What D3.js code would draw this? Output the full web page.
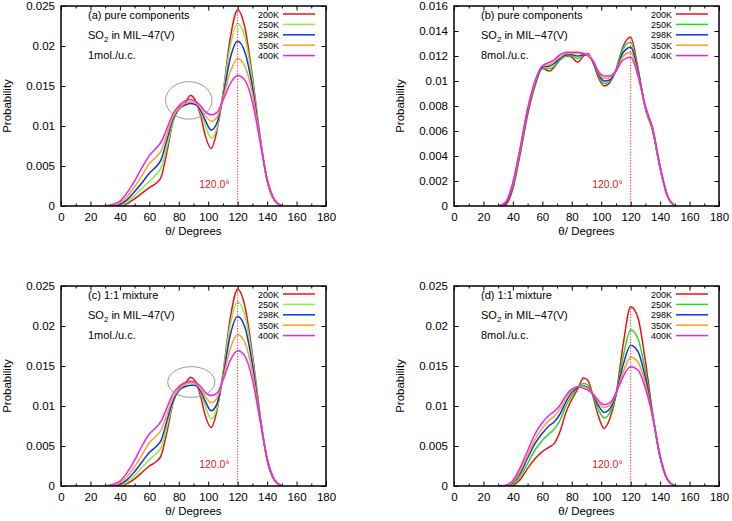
<!DOCTYPE html>
<html><head><meta charset="utf-8">
<script src="https://cdn.jsdelivr.net/npm/d3@7"></script>
<style>
body{margin:0;background:#fff}
text{font-family:"Liberation Sans",Arial,Helvetica,sans-serif;fill:#000}
</style>
</head><body>
<svg id="chart" width="732" height="521"></svg>
<script>
// ---------- DATA ----------
const theta = [30,35,40,45,50,55,60,65,68,72,76,80,84,88,91,95,98,102,106,110,115,120,125,130,135,140,145,150];
const temps = ["200K","250K","298K","350K","400K"];

// (a) pure components, 1 mol./u.c.
const a200 = [0,0,0,0.0003,0.0009,0.0016,0.0023,0.0029,0.0036,0.0068,0.0105,0.0123,0.0128,0.0138,0.0133,0.0112,0.0088,0.0072,0.0095,0.0140,0.0210,0.0245,0.0222,0.0162,0.0090,0.0032,0.0007,0];
const a250 = [0,0,0.0001,0.0005,0.0013,0.0022,0.0031,0.0040,0.0048,0.0075,0.0105,0.0121,0.0127,0.0130,0.0129,0.0117,0.0101,0.0085,0.0098,0.0140,0.0200,0.0228,0.0210,0.0157,0.0089,0.0032,0.0007,0];
const a298 = [0,0,0.0002,0.0008,0.0018,0.0029,0.0041,0.0050,0.0058,0.0083,0.0108,0.0121,0.0126,0.0128,0.0127,0.0119,0.0107,0.0095,0.0104,0.0136,0.0185,0.0206,0.0192,0.0149,0.0087,0.0032,0.0007,0];
const a350 = [0,0.0001,0.0004,0.0012,0.0024,0.0038,0.0053,0.0062,0.0069,0.0090,0.0111,0.0122,0.0128,0.0130,0.0129,0.0122,0.0113,0.0106,0.0111,0.0134,0.0168,0.0184,0.0174,0.0140,0.0085,0.0033,0.0007,0];
const a400 = [0,0.0002,0.0006,0.0017,0.0031,0.0048,0.0063,0.0073,0.0080,0.0097,0.0115,0.0125,0.0131,0.0133,0.0131,0.0125,0.0118,0.0114,0.0117,0.0132,0.0153,0.0163,0.0157,0.0130,0.0083,0.0034,0.0008,0];

// (b) pure components, 8 mol./u.c.
const b200 = [0,0.0001,0.0014,0.0042,0.0073,0.0096,0.0110,0.0108,0.0111,0.0117,0.0120,0.0119,0.0115,0.0120,0.0122,0.0113,0.0103,0.0096,0.0099,0.0109,0.0128,0.0135,0.0110,0.0078,0.0060,0.0030,0.0008,0];
const b250 = [0,0.0002,0.0016,0.0044,0.0075,0.0097,0.0110,0.0110,0.0112,0.0117,0.0120,0.0120,0.0118,0.0121,0.0121,0.0114,0.0105,0.0098,0.0100,0.0109,0.0126,0.0131,0.0108,0.0078,0.0060,0.0030,0.0008,0];
const b298 = [0,0.0002,0.0017,0.0045,0.0076,0.0098,0.0111,0.0112,0.0114,0.0118,0.0121,0.0121,0.0120,0.0121,0.0121,0.0114,0.0106,0.0100,0.0101,0.0108,0.0123,0.0127,0.0107,0.0079,0.0061,0.0031,0.0008,0];
const b350 = [0,0.0003,0.0018,0.0046,0.0077,0.0099,0.0112,0.0113,0.0116,0.0119,0.0122,0.0122,0.0122,0.0122,0.0121,0.0115,0.0107,0.0102,0.0103,0.0108,0.0120,0.0123,0.0105,0.0079,0.0061,0.0031,0.0008,0];
const b400 = [0,0.0003,0.0019,0.0047,0.0078,0.0100,0.0112,0.0115,0.0117,0.0121,0.0123,0.0123,0.0123,0.0122,0.0120,0.0115,0.0108,0.0104,0.0104,0.0108,0.0117,0.0119,0.0104,0.0080,0.0062,0.0032,0.0008,0];

// (c) 1:1 mixture, 1 mol./u.c.
const c200 = [0,0,0,0.0003,0.0009,0.0017,0.0025,0.0031,0.0038,0.0068,0.0103,0.0121,0.0127,0.0136,0.0132,0.0111,0.0088,0.0073,0.0095,0.0140,0.0210,0.0246,0.0224,0.0165,0.0092,0.0033,0.0007,0];
const c250 = [0,0,0.0001,0.0005,0.0013,0.0023,0.0033,0.0041,0.0048,0.0075,0.0104,0.0120,0.0126,0.0129,0.0128,0.0116,0.0100,0.0084,0.0098,0.0140,0.0202,0.0230,0.0212,0.0160,0.0090,0.0033,0.0007,0];
const c298 = [0,0,0.0002,0.0008,0.0018,0.0030,0.0042,0.0050,0.0057,0.0082,0.0106,0.0119,0.0124,0.0126,0.0126,0.0118,0.0106,0.0094,0.0103,0.0136,0.0189,0.0212,0.0198,0.0152,0.0088,0.0033,0.0007,0];
const c350 = [0,0.0001,0.0004,0.0012,0.0024,0.0039,0.0054,0.0063,0.0070,0.0090,0.0110,0.0121,0.0127,0.0129,0.0128,0.0121,0.0112,0.0104,0.0110,0.0134,0.0172,0.0189,0.0179,0.0142,0.0086,0.0034,0.0007,0];
const c400 = [0,0.0002,0.0006,0.0017,0.0032,0.0050,0.0065,0.0074,0.0081,0.0098,0.0115,0.0124,0.0129,0.0131,0.0130,0.0124,0.0117,0.0113,0.0116,0.0132,0.0157,0.0169,0.0162,0.0133,0.0084,0.0035,0.0008,0];

// (d) 1:1 mixture, 8 mol./u.c.
const d200 = [0,0,0.0001,0.0008,0.0022,0.0034,0.0043,0.0049,0.0053,0.0068,0.0092,0.0108,0.0121,0.0135,0.0132,0.0108,0.0088,0.0072,0.0085,0.0113,0.0178,0.0224,0.0210,0.0156,0.0090,0.0036,0.0008,0];
const d250 = [0,0,0.0002,0.0012,0.0028,0.0045,0.0057,0.0066,0.0071,0.0082,0.0100,0.0113,0.0123,0.0128,0.0126,0.0110,0.0096,0.0085,0.0092,0.0114,0.0163,0.0195,0.0184,0.0143,0.0088,0.0036,0.0008,0];
const d298 = [0,0,0.0004,0.0016,0.0035,0.0053,0.0066,0.0076,0.0080,0.0090,0.0105,0.0117,0.0123,0.0125,0.0123,0.0112,0.0101,0.0092,0.0097,0.0115,0.0152,0.0176,0.0168,0.0135,0.0087,0.0036,0.0008,0];
const d350 = [0,0,0.0005,0.0019,0.0039,0.0058,0.0072,0.0083,0.0087,0.0096,0.0109,0.0119,0.0124,0.0124,0.0122,0.0113,0.0105,0.0098,0.0101,0.0116,0.0143,0.0161,0.0155,0.0128,0.0086,0.0037,0.0008,0];
const d400 = [0,0.0001,0.0007,0.0023,0.0044,0.0065,0.0079,0.0089,0.0093,0.0101,0.0113,0.0121,0.0124,0.0122,0.0120,0.0114,0.0107,0.0102,0.0104,0.0116,0.0137,0.0149,0.0145,0.0122,0.0086,0.0038,0.0008,0];

const xTicks = [0,20,40,60,80,100,120,140,160,180];
const yTicks25 = [0,0.005,0.01,0.015,0.02,0.025];
const yTicks16 = [0,0.002,0.004,0.006,0.008,0.01,0.012,0.014,0.016];
const titles = ["(a) pure components","(b) pure components","(c) 1:1 mixture","(d) 1:1 mixture"];
const loadings = ["1mol./u.c.","8mol./u.c.","1mol./u.c.","8mol./u.c."];
const markAngle = 120.0;
// ellipse annotations [cx(deg), cy(prob), rx(deg), ry(prob)]
const ellipseA = [86.8, 0.0132, 15.8, 0.00234];
const ellipseC = [88.5, 0.0130, 16.0, 0.00192];

// ---------- DRAW ----------
const svg = d3.select("#chart");
const colorsLight = ["#ee1111","#88ee44","#1133dd","#ffa020","#ee22ee"];
const colorsDark  = ["#ee1111","#22dd22","#1133dd","#ffa020","#ee22ee"];

const panels = [
  {x0:61,x1:326,y0:6,y1:206,ymax:0.025,yt:yTicks25,series:[a200,a250,a298,a350,a400],colors:colorsLight,title:titles[0],load:loadings[0],ell:ellipseA},
  {x0:454,x1:719,y0:6,y1:206,ymax:0.016,yt:yTicks16,series:[b200,b250,b298,b350,b400],colors:colorsDark,title:titles[1],load:loadings[1],ell:null},
  {x0:61,x1:326,y0:286,y1:486,ymax:0.025,yt:yTicks25,series:[c200,c250,c298,c350,c400],colors:colorsLight,title:titles[2],load:loadings[2],ell:ellipseC},
  {x0:454,x1:719,y0:286,y1:486,ymax:0.025,yt:yTicks25,series:[d200,d250,d298,d350,d400],colors:colorsDark,title:titles[3],load:loadings[3],ell:null}
];

const fmt = v => String(+v.toFixed(3));

panels.forEach((p,pi)=>{
  const x = d3.scaleLinear().domain([0,180]).range([p.x0,p.x1]);
  const y = d3.scaleLinear().domain([0,p.ymax]).range([p.y1,p.y0]);
  const g = svg.append("g");
  const clipId = "clip"+pi;
  g.append("clipPath").attr("id",clipId).append("rect")
    .attr("x",p.x0).attr("y",p.y0).attr("width",p.x1-p.x0).attr("height",p.y1-p.y0);

  const minor = d3.range(10,180,20);
  g.append("g").attr("transform",`translate(0,${p.y1})`)
    .call(d3.axisBottom(x).tickValues(xTicks).tickSize(-4.5).tickPadding(7).tickFormat(d3.format("d")));
  g.append("g").attr("transform",`translate(0,${p.y1})`)
    .call(d3.axisBottom(x).tickValues(minor).tickSize(-2.5).tickFormat(""));
  g.append("g").attr("transform",`translate(0,${p.y0})`)
    .call(d3.axisTop(x).tickValues(xTicks).tickSize(-4.5).tickFormat(""));
  g.append("g").attr("transform",`translate(0,${p.y0})`)
    .call(d3.axisTop(x).tickValues(minor).tickSize(-2.5).tickFormat(""));
  g.append("g").attr("transform",`translate(${p.x0},0)`)
    .call(d3.axisLeft(y).tickValues(p.yt).tickSize(-4.5).tickPadding(6).tickFormat(fmt));
  g.append("g").attr("transform",`translate(${p.x1},0)`)
    .call(d3.axisRight(y).tickValues(p.yt).tickSize(-4.5).tickFormat(""));
  g.selectAll(".domain").remove();
  g.selectAll(".tick line").attr("stroke","#000").attr("stroke-width",1);
  g.selectAll(".tick text").attr("font-size","11.5px").attr("font-family","Liberation Sans, Arial, sans-serif").attr("fill","#000");

  const line = d3.line().x((d,i)=>x(theta[i])).y(d=>y(d)).curve(d3.curveMonotoneX);
  const cg = g.append("g").attr("clip-path",`url(#${clipId})`);
  p.series.forEach((s,si)=>{
    cg.append("path").datum(s).attr("d",line).attr("fill","none")
      .attr("stroke",p.colors[si]).attr("stroke-width",1.5);
  });

  const redMax = d3.max(p.series[0]);
  g.append("line").attr("x1",x(markAngle)).attr("x2",x(markAngle))
    .attr("y1",y(0)).attr("y2",y(redMax))
    .attr("stroke","#ee2222").attr("stroke-width",1).attr("stroke-dasharray","1.2,1.6");
  g.append("text").attr("x",x(markAngle)-8).attr("y",p.y1-18)
    .attr("text-anchor","end").attr("font-size","10.5px")
    .style("fill","#e02020").text(markAngle.toFixed(1)+"°");

  if(p.ell){
    const [cx,cy,rx,ry] = p.ell;
    g.append("ellipse").attr("cx",x(cx)).attr("cy",y(cy))
      .attr("rx",x(cx+rx)-x(cx)).attr("ry",y(cy)-y(cy+ry))
      .attr("fill","none").attr("stroke","#999").attr("stroke-width",1);
  }

  g.append("rect").attr("x",p.x0).attr("y",p.y0).attr("width",p.x1-p.x0).attr("height",p.y1-p.y0)
    .attr("fill","none").attr("stroke","#000").attr("stroke-width",1.5);

  const ax = p.x0+27;
  g.append("text").attr("x",ax).attr("y",p.y0+13).attr("font-size","11px").text(p.title);
  const so = g.append("text").attr("x",ax).attr("y",p.y0+33).attr("font-size","11px");
  so.append("tspan").text("SO");
  so.append("tspan").attr("font-size","8px").attr("dy",3).text("2");
  so.append("tspan").attr("dy",-3).text(" in MIL\u221247(V)");
  g.append("text").attr("x",ax).attr("y",p.y0+53).attr("font-size","11px").text(p.load);

  temps.forEach((t,i)=>{
    const ly = p.y0+8+i*10.4;
    g.append("text").attr("x",p.x1-47).attr("y",ly+3.5).attr("text-anchor","end")
      .attr("font-size","9px").text(t);
    g.append("line").attr("x1",p.x1-43).attr("x2",p.x1-11).attr("y1",ly).attr("y2",ly)
      .attr("stroke",p.colors[i]).attr("stroke-width",1.5);
  });

  g.append("text").attr("x",(p.x0+p.x1)/2).attr("y",p.y1+29).attr("text-anchor","middle")
    .attr("font-size","11.5px").text("\u03b8/ Degrees");
  g.append("text").attr("transform",`translate(${p.x0-50},${(p.y0+p.y1)/2}) rotate(-90)`)
    .attr("text-anchor","middle").attr("font-size","11.5px").text("Probability");
});
</script>
</body></html>
